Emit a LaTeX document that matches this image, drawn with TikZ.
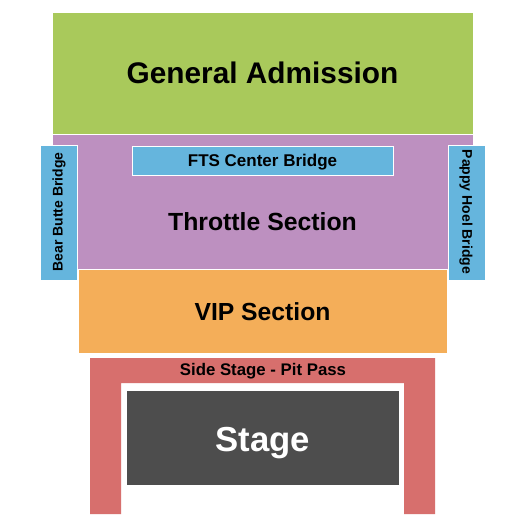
\documentclass[tikz,border=0pt]{standalone}
\usepackage{fontspec}
\setmainfont{Liberation Sans}
\definecolor{ga}{HTML}{A9C95B}
\definecolor{thr}{HTML}{BD90C0}
\definecolor{brg}{HTML}{65B5DD}
\definecolor{vip}{HTML}{F4AE59}
\definecolor{pit}{HTML}{D76F6D}
\definecolor{stg}{HTML}{4D4D4D}
\begin{document}
\begin{tikzpicture}[x=1pt,y=-1pt,
  sec/.style={draw=white,line width=1pt},
  lbl/.style={font=\bfseries,text=black,inner sep=0pt}]
\useasboundingbox (0,0) rectangle (525,525);
\fill[white] (0,0) rectangle (525,525);
\path[sec,fill=ga] (52,12) rectangle (473,134);
\path[sec,fill=thr] (52,134) rectangle (473,269.5);
\path[sec,fill=vip] (78,269.5) rectangle (447,353);
\path[sec,fill=brg] (40,145) rectangle (77,280);
\path[sec,fill=brg] (448,145) rectangle (485,280);
\path[sec,fill=brg] (132,146) rectangle (393,175);
\fill[pit] (90,358) -- (435,358) -- (435,514) -- (404,514) -- (404,383) -- (121,383) -- (121,514) -- (90,514) -- cycle;
\fill[stg] (127,391) rectangle (399,485);
\node[lbl,font=\bfseries\fontsize{29.8}{34}\selectfont] (ga) at (262.5,73) {General Admission};
\node[lbl,font=\bfseries\fontsize{17}{20}\selectfont] (fts) at (262.5,162) {FTS Center Bridge};
\node[lbl,font=\bfseries\fontsize{24.8}{29}\selectfont] (thr) at (262.5,222) {Throttle Section};
\node[lbl,font=\bfseries\fontsize{24.7}{29}\selectfont] (vip) at (262.5,312) {VIP Section};
\node[lbl,font=\bfseries\fontsize{14}{16}\selectfont,rotate=90] (bb) at (59,212) {Bear Butte Bridge};
\node[lbl,font=\bfseries\fontsize{14}{16}\selectfont,rotate=-90] (ph) at (466,212) {Pappy Hoel Bridge};
\node[lbl,font=\bfseries\fontsize{16.8}{20}\selectfont] (pit) at (263,371.5) {Side Stage - Pit Pass};
\node[lbl,text=white,font=\bfseries\fontsize{34.7}{40}\selectfont] (stage) at (263,443) {Stage};
\end{tikzpicture}
\end{document}
